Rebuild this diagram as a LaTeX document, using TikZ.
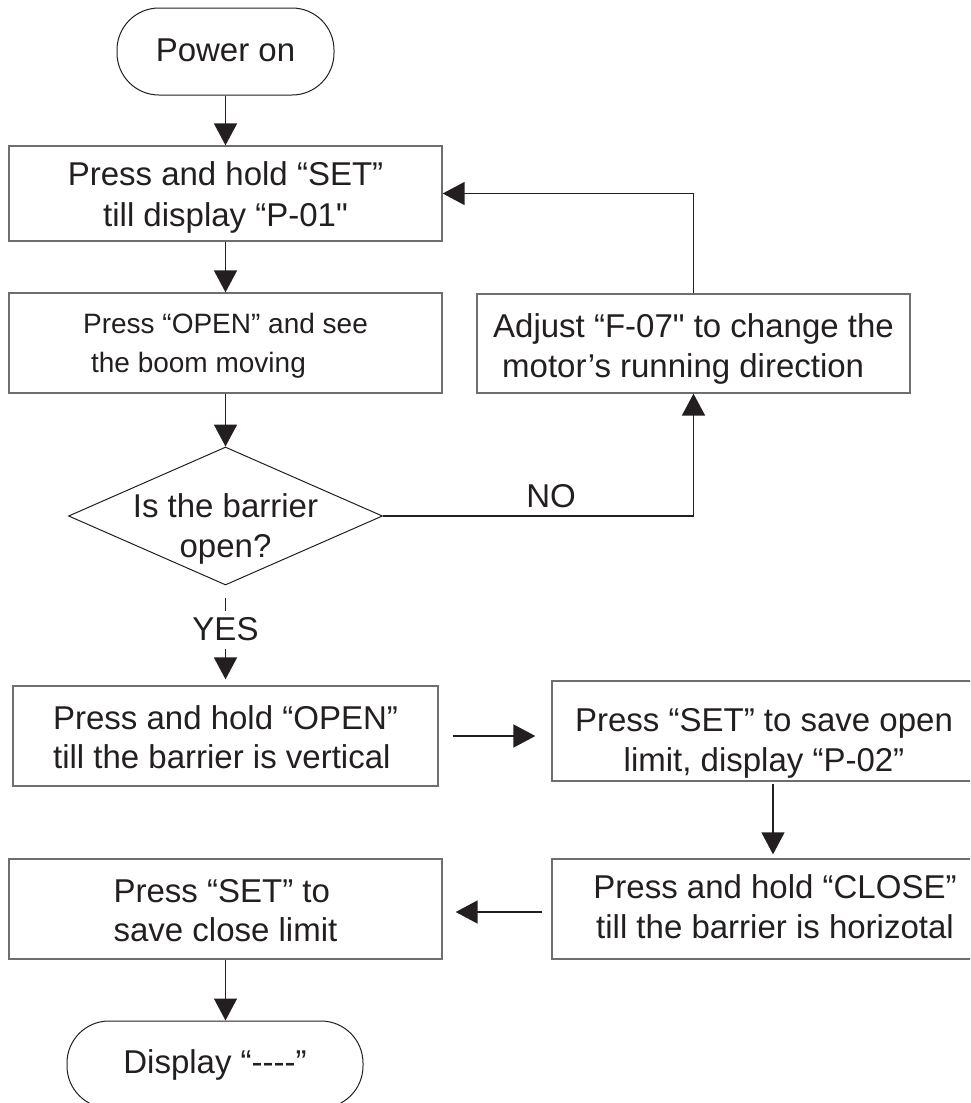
\documentclass[tikz,border=0pt]{standalone}
\usepackage{fontspec}
\newfontfamily\lib{Liberation Sans}
\usetikzlibrary{arrows.meta,shapes.geometric}
\definecolor{ink}{HTML}{231F20}
\definecolor{edge}{HTML}{6D6E71}
\begin{document}
\begin{tikzpicture}[x=1pt,y=-1pt,
  txt/.style={text=ink, inner sep=0pt, font=\lib\fontsize{33}{40}\selectfont, text height=24pt},
  box/.style={txt, draw=edge, line width=1.3pt, rectangle, align=center, text depth=0pt},
  term/.style={txt, draw=ink, line width=1pt, rectangle, rounded corners=42pt},
  dec/.style={draw=ink, line width=1pt, diamond, inner sep=0pt},
  arr/.style={draw=ink, line width=1.8pt, -{Triangle[length=22pt,width=23pt]}},
  thinarr/.style={arr, line width=1.4pt},
  lbl/.style={txt, anchor=base, text depth=0pt},
]
\useasboundingbox (0,0) rectangle (970,1103);
\clip (0,0) rectangle (970,1103);

% nodes
\node[term, minimum width=217pt, minimum height=87pt, text depth=5pt] (pwr) at (225.5,51.5) {Power on};

\node[box, minimum width=433pt, minimum height=95pt, text height=65pt,
      font=\lib\fontsize{33}{41}\selectfont] (b1) at (225.5,193.5)
  {Press and hold “SET”\\till display “P-01"};

\node[box, minimum width=433pt, minimum height=100pt, text height=58pt,
      font=\lib\fontsize{28}{39}\selectfont, align=left] (b2) at (225.5,343)
  {Press “OPEN” and see\\\hspace*{8pt}the boom moving};

\node[box, minimum width=433pt, minimum height=99pt, text height=67pt, align=left] (adj) at (693.5,343.5)
  {Adjust “F-07" to change the\\\hspace*{9pt}motor’s running direction};

\node[dec, minimum width=314pt, minimum height=138pt] (dec) at (225.5,516) {};
\node[txt, align=center, text height=82pt, text depth=0pt] (dect) at (225.5,516) {Is the barrier\\open?};

\node[lbl] (no) at (551,507) {NO};
\node[lbl] (yes) at (225.5,640) {YES};

\node[box, minimum width=425pt, minimum height=100pt, text height=64pt,
      font=\lib\fontsize{33}{39}\selectfont, align=left] (b4) at (225.5,736)
  {Press and hold “OPEN”\\till the barrier is vertical};

\node[box, minimum width=424pt, minimum height=100pt, text height=80pt] (b5) at (764,731)
  {Press “SET” to save open\\limit, display “P-02”};

\node[box, minimum width=446pt, minimum height=100pt, text height=58pt] (b6) at (775,909)
  {Press and hold “CLOSE”\\till the barrier is horizotal};

\node[box, minimum width=433pt, minimum height=100pt, text height=64pt,
      font=\lib\fontsize{33}{39}\selectfont, align=left] (b7) at (225.5,909)
  {Press “SET” to\\save close limit};

\node[term, minimum width=296pt, minimum height=87pt, text depth=7pt] (disp) at (215,1064.5) {Display “----”};

% connectors
\draw[arr] (pwr) -- (b1);
\draw[arr] (b1) -- (b2);
\draw[arr] (b2) -- (dec);
\draw[arr] (dec.east) -| (adj.south);
\draw[thinarr] (adj.north) |- (b1.east);
\draw[arr, -, line width=1.4pt, shorten <=12pt, shorten >=5pt] (dec.south) -- (yes.north);
\draw[arr, shorten <=9pt, shorten >=6pt] (yes.south) -- (b4.north);
\draw[arr, shorten <=14pt, shorten >=16pt] (b4.east) -- (b4.east -| b5.west);
\draw[thinarr, shorten <=2pt, shorten >=4pt] ([xshift=9pt]b5.south) -- ([xshift=9pt]b5.south |- b6.north);
\draw[arr, shorten <=9pt, shorten >=13pt] ([yshift=-3pt]b6.west) -- ([yshift=-3pt]b6.west -| b7.east);
\draw[thinarr] (b7.south) -- (b7.south |- disp.north);
\end{tikzpicture}
\end{document}
